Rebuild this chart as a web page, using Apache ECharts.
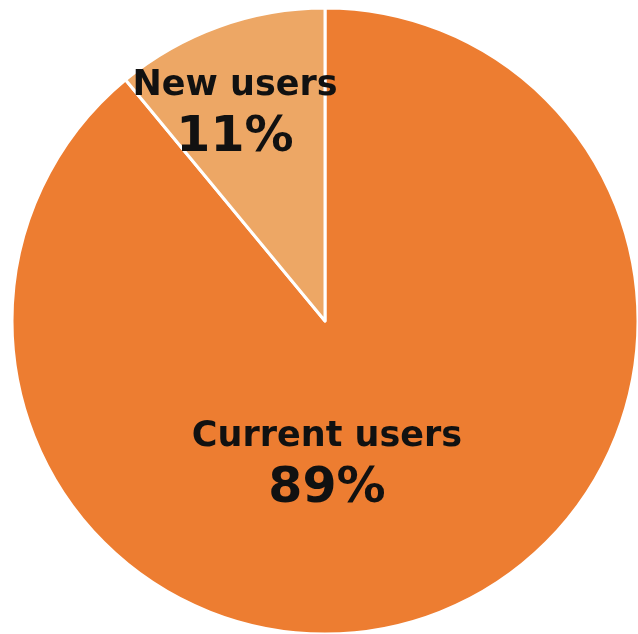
<!DOCTYPE html>
<html><head><meta charset="utf-8">
<script src="https://cdn.jsdelivr.net/npm/echarts@6/dist/echarts.min.js"></script>
<style>html,body{margin:0;padding:0;background:#fff}#c{width:638px;height:634px}</style>
</head><body><div id="c"></div>
<script>
const categories = ['Current users', 'New users'];
const values = [89, 11];
const colors = ['#ED7D31', '#EDA765'];
const labelPos = [[327, 464], [235, 113]];

const chart = echarts.init(document.getElementById('c'), null, {renderer: 'canvas'});
chart.setOption({
  animation: false,
  series: [{
    type: 'pie',
    center: [325, 321],
    radius: [0, 313],
    startAngle: 90,
    clockwise: true,
    data: categories.map((n, i) => ({name: n, value: values[i], itemStyle: {color: colors[i]}})),
    itemStyle: {borderColor: '#fff', borderWidth: 3},
    emphasis: {disabled: true},
    label: {
      show: true,
      position: 'inside',
      formatter: '{a|{b}}\n{p|{d}%}',
      rich: {
        a: {fontFamily: 'DejaVu Sans', fontWeight: 'bold', fontSize: 35, color: '#111', lineHeight: 50, align: 'center'},
        p: {fontFamily: 'DejaVu Sans', fontWeight: 'bold', fontSize: 49, color: '#111', lineHeight: 54, align: 'center'}
      }
    },
    labelLine: {show: false},
    labelLayout: function (params) {
      const p = labelPos[params.dataIndex];
      return {x: p[0], y: p[1], align: 'center', verticalAlign: 'middle'};
    }
  }]
});
</script></body></html>
